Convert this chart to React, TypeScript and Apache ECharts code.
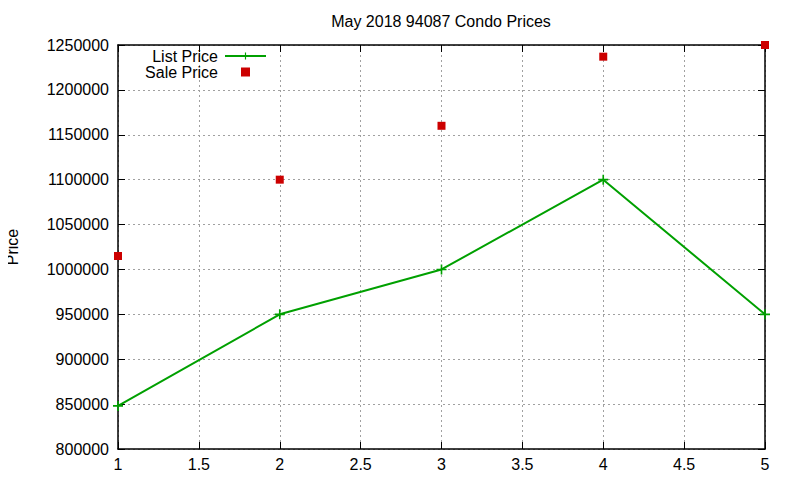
import { useRef, useEffect } from 'react'
import * as echarts from 'echarts'

const xValues = [1, 2, 3, 4, 5]
const listPrice = [848000, 950000, 1000000, 1100000, 950000]
const salePrice = [1015000, 1100000, 1160000, 1237000, 1250000]

const font = '"Liberation Sans", Arial, sans-serif'
const plus = 'path://M4.2,0H5.8V4.2H10V5.8H5.8V10H4.2V5.8H0V4.2H4.2Z'
const square = 'path://M0,0H10V10H0Z'

const grid = { left: 118, right: 35, top: 45, bottom: 31, containLabel: false, outerBoundsMode: 'none' }

const tickStyle = { inside: true, length: 7, lineStyle: { color: '#000', width: 1 } }
const gridLine = { show: true, lineStyle: { color: '#a0a0a0', type: [2, 3] as any, width: 1 } }
const axisLine = { show: true, onZero: false, lineStyle: { color: '#000', width: 1.5 } }

export default function App() {
  const chartRef = useRef<HTMLDivElement>(null)

  useEffect(() => {
    if (!chartRef.current) return
    const chart = echarts.init(chartRef.current, undefined, { renderer: 'svg' })
    chart.setOption({
      animation: false,
      backgroundColor: '#fff',
      textStyle: { fontFamily: font, color: '#000' },
      title: {
        text: 'May 2018 94087 Condo Prices',
        left: 436,
        textAlign: 'center',
        top: 8,
        textStyle: { fontFamily: font, fontSize: 16, fontWeight: 'normal', color: '#000' },
      },
      legend: {
        orient: 'vertical',
        right: 528,
        top: 43,
        align: 'right',
        itemWidth: 41,
        itemHeight: 9,
        itemGap: 0,
        symbolKeepAspect: true,
        textStyle: { fontFamily: font, fontSize: 16, lineHeight: 15, color: '#000', padding: [0, 2, 0, 0] },
        data: [
          { name: 'List Price' },
          { name: 'Sale Price', icon: square, itemStyle: { color: '#cc0000' } },
        ],
      },
      grid,
      xAxis: [
        {
          type: 'value',
          min: 1,
          max: 5,
          interval: 0.5,
          axisLine,
          axisTick: tickStyle,
          splitLine: gridLine,
          axisLabel: { fontFamily: font, fontSize: 16, color: '#000', margin: 7 },
        },
        {
          type: 'value',
          position: 'top',
          min: 1,
          max: 5,
          interval: 0.5,
          axisLine,
          axisTick: tickStyle,
          splitLine: { show: false },
          axisLabel: { show: false },
        },
      ],
      yAxis: [
        {
          type: 'value',
          min: 800000,
          max: 1250000,
          interval: 50000,
          name: 'Price',
          nameLocation: 'middle',
          nameGap: 98,
          nameRotate: 90,
          nameTextStyle: { fontFamily: font, fontSize: 16, color: '#000' },
          axisLine,
          axisTick: tickStyle,
          splitLine: gridLine,
          axisLabel: {
            fontFamily: font,
            fontSize: 16,
            color: '#000',
            margin: 9,
            formatter: (v: number) => String(v),
          },
        },
        {
          type: 'value',
          position: 'right',
          min: 800000,
          max: 1250000,
          interval: 50000,
          axisLine,
          axisTick: tickStyle,
          splitLine: { show: false },
          axisLabel: { show: false },
        },
      ],
      series: [
        {
          name: 'List Price',
          type: 'line',
          data: xValues.map((x, i) => [x, listPrice[i]]),
          symbol: plus,
          symbolSize: 10,
          showAllSymbol: true,
          lineStyle: { color: '#00a000', width: 2 },
          itemStyle: { color: '#00a000' },
          clip: false,
        },
        {
          name: 'Sale Price',
          type: 'scatter',
          data: xValues.map((x, i) => [x, salePrice[i]]),
          symbol: 'rect',
          symbolSize: 8,
          itemStyle: { color: '#cc0000', opacity: 1 },
          clip: false,
        },
      ],
    })
    return () => chart.dispose()
  }, [])

  return <div ref={chartRef} style={{ width: 800, height: 480, margin: -8 }} />
}
